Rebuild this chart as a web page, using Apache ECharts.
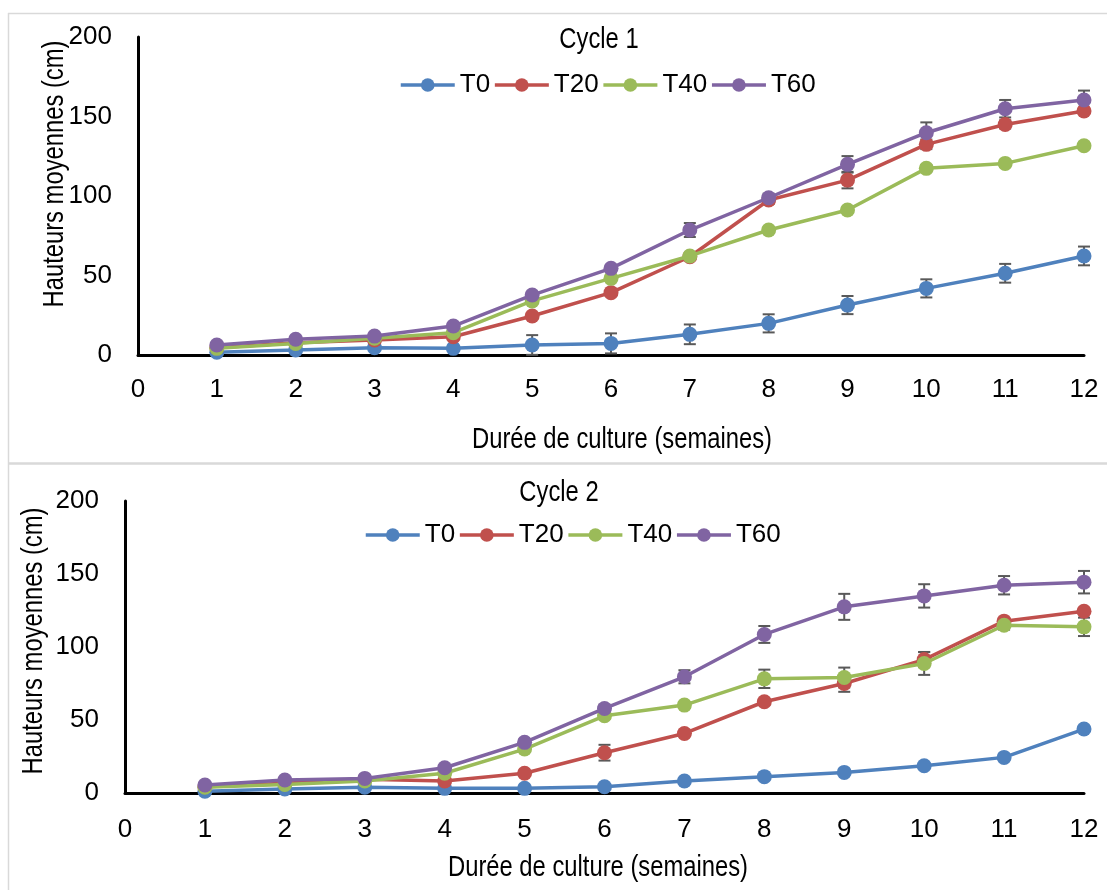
<!DOCTYPE html>
<html><head><meta charset="utf-8">
<script src="https://cdn.jsdelivr.net/npm/echarts@6/dist/echarts.min.js"></script>
<style>html,body{margin:0;padding:0;background:#fff}#c{width:1107px;height:890px}</style>
</head><body><div id="c"></div>
<script>
// ---------- DATA ----------
const weeks = [1,2,3,4,5,6,7,8,9,10,11,12];
const seriesNames = ['T0','T20','T40','T60'];
const yTicks = [0,50,100,150,200];
const xTickLabels = ['0','1','2','3','4','5','6','7','8','9','10','11','12'];
const panelTitles = ['Cycle 1','Cycle 2'];
const xTitle = 'Durée de culture (semaines)';
const yTitle = 'Hauteurs moyennes (cm)';

// Cycle 1
const c1_T0  = [1.7, 3.1, 4.6, 4.2, 6.3, 7.3, 13.0, 19.9, 31.4, 41.9, 51.4, 62.3];
const c1_T20 = [4.5, 7.7, 9.4, 11.5, 24.5, 39.2, 61.8, 97.5, 110.0, 132.5, 145.0, 153.5];
const c1_T40 = [4.2, 7.3, 10.5, 14.0, 34.0, 48.2, 62.3, 78.6, 91.2, 117.4, 120.5, 131.6];
const c1_T60 = [6.3, 9.9, 11.9, 18.2, 37.7, 54.5, 78.6, 98.9, 119.9, 139.8, 154.9, 160.4];
const c1_T0_err  = [1, 1, 1, 1.5, 6.2, 6.3, 6.2, 5.7, 5.7, 5.7, 5.9, 5.9];
const c1_T20_err = [1, 1, 1, 1.5, 1.5, 2, 2, 2.5, 5.2, 3, 2.5, 2];
const c1_T40_err = [1, 1, 1, 1, 1.5, 1.5, 1.5, 1.5, 1.5, 2, 2, 2];
const c1_T60_err = [1, 1, 1, 1.5, 2, 2, 4.4, 2.5, 5.2, 6.5, 5.5, 5.9];

// Cycle 2
const c2_T0  = [1.2, 2.7, 3.9, 3.2, 3.2, 4.3, 8.2, 11.2, 14.1, 18.7, 24.4, 43.8];
const c2_T20 = [4.3, 6.6, 9.4, 8.2, 13.5, 27.6, 40.8, 62.5, 75.0, 91.4, 117.7, 124.5];
const c2_T40 = [3.9, 5.9, 8.2, 13.5, 30.1, 52.9, 60.2, 78.2, 79.1, 88.7, 114.9, 113.8];
const c2_T60 = [5.5, 8.9, 10.0, 17.3, 34.7, 57.9, 79.6, 108.6, 127.5, 135.0, 142.3, 144.4];
const c2_T0_err  = [1, 1, 1, 1, 1, 1.5, 1.5, 1.5, 1.5, 1.5, 2, 2];
const c2_T20_err = [1, 1, 1, 1, 1.5, 5.4, 2, 2, 5.7, 5.2, 2, 2];
const c2_T40_err = [1, 1, 1, 1, 1.5, 2, 2, 6.3, 6.8, 7.8, 3, 6.3];
const c2_T60_err = [1, 1, 1, 1.5, 2, 2.5, 4.5, 5.8, 8.9, 8, 6.3, 7.7];

const colors = ['#4F81BD','#C0504D','#9BBB59','#8064A2'];

// ---------- FONT ----------
const FONT = '"Liberation Sans", Arial, sans-serif';
const NARROW = 0.82;   // horizontal squeeze to mimic a narrow face for free text

// ---------- LAYOUT ----------
const panels = [
  {grid:{left:138, top:37, width:946, height:318}, legendLeft:399, legendTop:72, xMargin:22,
   title:[599,40], xt:[622,440], yt:[55,174],
   data:[c1_T0,c1_T20,c1_T40,c1_T60], err:[c1_T0_err,c1_T20_err,c1_T40_err,c1_T60_err]},
  {grid:{left:125, top:501, width:959, height:292}, legendLeft:364, legendTop:522, xMargin:24,
   title:[559,493], xt:[598,868], yt:[34,641],
   data:[c2_T0,c2_T20,c2_T40,c2_T60], err:[c2_T0_err,c2_T20_err,c2_T40_err,c2_T60_err]}
];

const option = {
  animation:false,
  backgroundColor:'#fff',
  textStyle:{fontFamily:FONT},
  grid: panels.map(p=>p.grid),
  xAxis: panels.map((p,i)=>({
    type:'value', gridIndex:i, min:0, max:12, interval:1,
    axisLine:{show:true, onZero:false, lineStyle:{color:'#000', width:3}},
    axisTick:{show:false}, splitLine:{show:false},
    axisLabel:{color:'#000', fontSize:26, fontFamily:FONT, margin:p.xMargin,
      formatter:v=>xTickLabels[v]}
  })),
  yAxis: panels.map((p,i)=>({
    type:'value', gridIndex:i, min:yTicks[0], max:yTicks[yTicks.length-1], interval:50,
    axisLine:{show:true, lineStyle:{color:'#000', width:3}},
    axisTick:{show:false}, splitLine:{show:false},
    axisLabel:{color:'#000', fontSize:26, fontFamily:FONT, margin:26}
  })),
  legend: panels.map((p,i)=>({
    data: seriesNames, left:p.legendLeft, top:p.legendTop, padding:0,
    itemWidth:54, itemHeight:17, itemGap:3,
    lineStyle:{width:3.5},
    selectedMode:false, textStyle:{color:'#000', fontSize:26, fontFamily:FONT}
  })),
  graphic: [],
  series: []
};

// panel frames
option.graphic.push(
  {type:'line', shape:{x1:8,y1:13.5,x2:1107,y2:13.5}, style:{stroke:'#d9d9d9', lineWidth:1.5}, silent:true},
  {type:'line', shape:{x1:8.5,y1:13,x2:8.5,y2:890}, style:{stroke:'#d9d9d9', lineWidth:1.5}, silent:true},
  {type:'line', shape:{x1:8,y1:463.5,x2:1107,y2:463.5}, style:{stroke:'#d9d9d9', lineWidth:2.5}, silent:true}
);

panels.forEach((p,pi)=>{
  option.graphic.push(
    {type:'text', x:p.title[0], y:p.title[1], scaleX:NARROW, silent:true,
     style:{text:panelTitles[pi], fill:'#000', fontSize:29, fontFamily:FONT, align:'center', verticalAlign:'middle'}},
    {type:'text', x:p.xt[0], y:p.xt[1], scaleX:NARROW, silent:true,
     style:{text:xTitle, fill:'#000', fontSize:29, fontFamily:FONT, align:'center', verticalAlign:'middle'}},
    {type:'text', x:p.yt[0], y:p.yt[1], rotation:Math.PI/2, scaleX:NARROW, silent:true,
     style:{text:yTitle, fill:'#000', fontSize:29, fontFamily:FONT, align:'center', verticalAlign:'middle'}}
  );
  // error bars
  seriesNames.forEach((name,si)=>{
    option.series.push({
      type:'custom', name:name+' err', xAxisIndex:pi, yAxisIndex:pi, z:1, silent:true,
      encode:{x:0, y:1},
      data: weeks.map((w,k)=>[w, p.data[si][k], p.err[si][k]]),
      renderItem:(params,api)=>{
        const x=api.value(0), y=api.value(1), e=api.value(2);
        const t=api.coord([x,y+e]), b=api.coord([x,y-e]); const hw=6;
        const st={stroke:'#595959', lineWidth:2};
        return {type:'group', children:[
          {type:'line', shape:{x1:t[0],y1:t[1],x2:b[0],y2:b[1]}, style:st},
          {type:'line', shape:{x1:t[0]-hw,y1:t[1],x2:t[0]+hw,y2:t[1]}, style:st},
          {type:'line', shape:{x1:b[0]-hw,y1:b[1],x2:b[0]+hw,y2:b[1]}, style:st}
        ]};
      }
    });
  });
  // lines
  seriesNames.forEach((name,si)=>{
    option.series.push({
      type:'line', name:name, xAxisIndex:pi, yAxisIndex:pi, z:2+si,
      data: weeks.map((w,k)=>[w, p.data[si][k]]),
      symbol:'circle', symbolSize:15, showSymbol:true,
      color:colors[si],
      lineStyle:{color:colors[si], width:3.5},
      itemStyle:{color:colors[si]},
      emphasis:{disabled:true}
    });
  });
});

const chart = echarts.init(document.getElementById('c'), null, {renderer:'canvas'});
chart.setOption(option);
</script>
</body></html>
